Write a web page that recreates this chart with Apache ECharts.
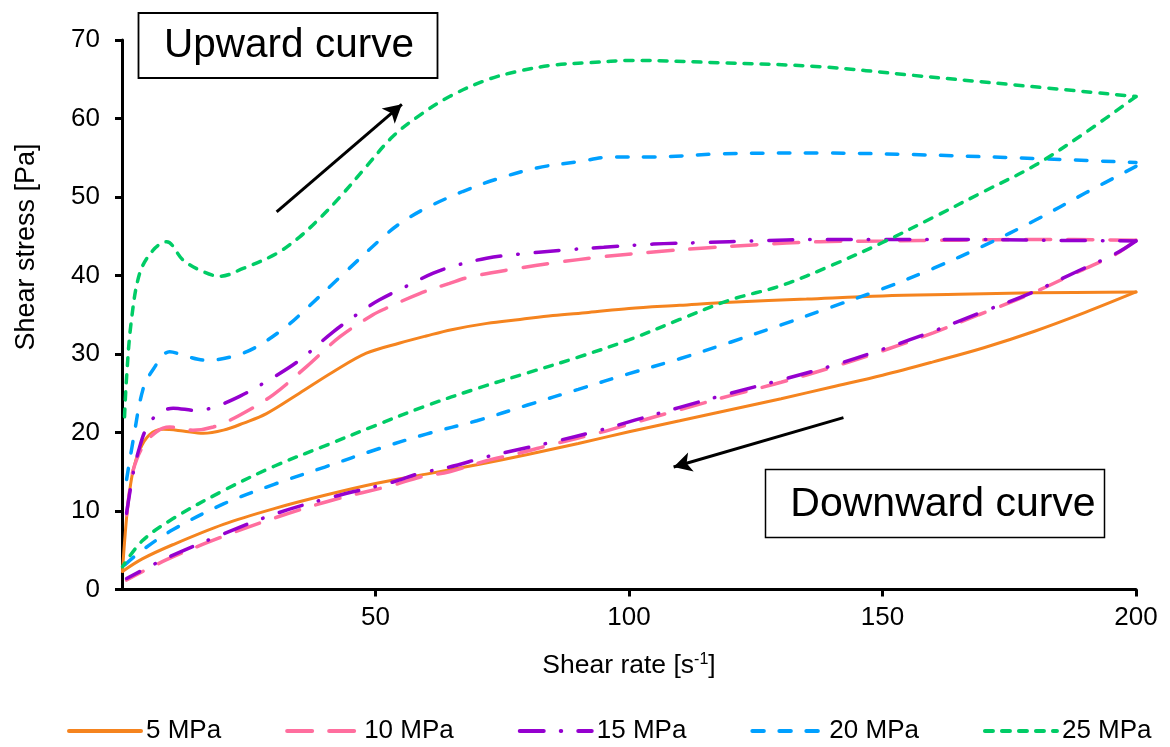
<!DOCTYPE html>
<html><head><meta charset="utf-8">
<script src="https://cdn.jsdelivr.net/npm/echarts@6/dist/echarts.min.js"></script>
<style>html,body{margin:0;padding:0;background:#fff}#c{width:1170px;height:747px}</style>
</head><body><div id="c"></div>
<script>
const seriesNames = ['5 MPa', '10 MPa', '15 MPa', '20 MPa', '25 MPa'];

// 5 MPa
const up5X = [0.1, 0.5, 1.2, 2.2, 3.5, 5.4, 8.1, 12, 16, 20, 24, 28.5, 35, 41.6, 48.2, 54.8, 60, 65, 72, 78.5, 85, 92, 100, 110, 120, 135, 150, 165, 180, 200];
const up5Y = [2.3, 6, 11, 15.2, 17.8, 19.7, 20.4, 20.2, 19.9, 20.3, 21.2, 22.4, 25, 27.7, 30.1, 31.4, 32.3, 33.1, 33.9, 34.4, 34.9, 35.3, 35.8, 36.2, 36.6, 37.0, 37.4, 37.6, 37.8, 37.9];
const down5X = [200, 190, 180, 170, 160, 150, 140, 130, 120, 110, 100, 90, 80, 70, 60, 50, 40, 30, 20, 10, 4, 0.1];
const down5Y = [37.9, 35.3, 32.9, 30.8, 29.0, 27.3, 25.8, 24.3, 22.9, 21.5, 20.1, 18.6, 17.2, 15.9, 14.7, 13.5, 12.0, 10.3, 8.3, 5.7, 3.9, 2.3];

// 10 MPa
const up10X = [0.9, 1.5, 2.2, 4.1, 6.8, 9.4, 14, 18, 23.2, 29.8, 36.4, 43, 49.5, 52, 58.7, 64.6, 68.6, 77, 85, 95, 104.8, 115, 124.5, 137.6, 150, 165, 180, 200];
const up10Y = [9.5, 12.5, 15.2, 18.2, 20.1, 20.7, 20.3, 20.7, 22.2, 24.8, 28.4, 32.2, 35.0, 35.8, 37.7, 39, 39.8, 40.8, 41.6, 42.4, 43, 43.5, 43.9, 44.3, 44.4, 44.5, 44.6, 44.5];
const down10X = [200, 196, 189, 179, 169, 160, 150, 140, 130, 120, 110, 101.3, 94.3, 85, 78, 71.9, 64.6, 58.7, 53.5, 41.6, 30.5, 19.3, 8.8, 0.9];
const down10Y = [44.5, 42.7, 40.6, 37.6, 35.0, 32.7, 30.4, 28.3, 26.4, 24.7, 22.9, 21.3, 20.0, 18.5, 17.3, 16.4, 15.0, 14.3, 13.3, 11.4, 9.2, 6.6, 3.8, 1.2];

// 15 MPa
const up15X = [0.9, 2.2, 3.5, 4.8, 6.8, 10.1, 14.7, 18, 23.2, 28.5, 35, 41.6, 47.6, 50.8, 56, 61.4, 66, 71.9, 78, 86.4, 95, 104.8, 115, 124.5, 137.6, 150, 165, 180, 200];
const up15Y = [9.7, 14.8, 18.2, 20.5, 22.2, 23.1, 22.8, 23.2, 24.6, 26.5, 29.2, 32.8, 35.6, 36.9, 38.6, 40.3, 41.3, 42.2, 42.7, 43.2, 43.6, 44.0, 44.2, 44.4, 44.6, 44.6, 44.6, 44.5, 44.4];
const down15X = [200, 196, 189, 179, 169, 160, 150, 140, 130, 120, 110, 101.3, 94.3, 85, 78, 71.9, 64.6, 58.7, 53.5, 41.6, 30.5, 19.3, 8.8, 0.9];
const down15Y = [44.4, 42.8, 40.7, 37.7, 35.2, 32.9, 30.6, 28.5, 26.7, 25.0, 23.2, 21.6, 20.3, 18.8, 17.8, 16.9, 15.6, 14.8, 13.7, 11.8, 9.7, 6.9, 4.0, 1.4];

// 20 MPa
const up20X = [0.9, 2.2, 4.1, 6.1, 9.4, 12.7, 16.7, 21.9, 26.5, 32.4, 36.4, 43, 51.5, 55, 60, 67.2, 74, 81.8, 90, 96.9, 104.8, 118, 137.6, 156, 175.7, 200];
const up20Y = [14, 19, 25.4, 28, 30.3, 29.7, 29.2, 29.7, 30.9, 33.5, 35.8, 39.8, 44.9, 46.7, 48.6, 50.7, 52.3, 53.7, 54.5, 55.1, 55.1, 55.5, 55.6, 55.4, 55, 54.4];
const down20X = [200, 190, 180, 170, 160, 150, 140, 130, 120, 110, 100, 90, 80, 70, 60, 50, 40, 30, 20, 10, 4, 0.5];
const down20Y = [53.9, 50.5, 47.0, 43.8, 40.9, 38.3, 36.0, 33.7, 31.5, 29.4, 27.5, 25.5, 23.5, 21.5, 19.8, 17.8, 15.6, 13.4, 10.9, 7.6, 5.0, 3.1];

// 25 MPa
const up25X = [0.5, 0.9, 1.8, 3.5, 6.1, 8.8, 12, 15.3, 19.3, 23.9, 30.5, 35, 39, 43, 48.2, 53.4, 58.7, 64.6, 71.9, 78, 85, 92, 100.7, 118, 137.6, 156, 175.7, 200];
const up25Y = [22, 27, 34, 40.3, 43.2, 44.3, 42, 40.7, 39.9, 40.9, 42.8, 44.9, 47.3, 50, 53.9, 57.7, 60.4, 62.8, 64.9, 66.0, 66.8, 67.1, 67.4, 67.1, 66.6, 65.5, 64.3, 62.8];
const down25X = [200, 190, 180, 170, 160, 150, 140, 130, 120, 110, 100, 90, 80, 70, 60, 50, 40, 30, 20, 10, 4, 0.1];
const down25Y = [62.8, 58.2, 54.0, 50.7, 47.4, 44.2, 41.3, 38.7, 36.9, 34.4, 31.8, 29.6, 27.6, 25.6, 23.4, 20.9, 18.3, 15.7, 12.6, 9.0, 6.2, 2.9];

const upX = [up5X, up10X, up15X, up20X, up25X];
const upY = [up5Y, up10Y, up15Y, up20Y, up25Y];
const downX = [down5X, down10X, down15X, down20X, down25X];
const downY = [down5Y, down10Y, down15Y, down20Y, down25Y];

const colors = ['#F5841F', '#FF6E9E', '#9500CF', '#00A0FF', '#00CC66'];
const dashes = ['solid', [25, 17], [24, 17, 0.5, 17], [11.5, 15.5], [8, 9]];
const widths = [3, 3.5, 3.5, 3.5, 3.5];

const FONT = 'Liberation Sans, Arial, sans-serif';
const zip = (xs, ys) => xs.map((x, i) => [x, ys[i]]);

const series = [];
seriesNames.forEach((name, i) => {
  const ls = { color: colors[i], width: widths[i], type: dashes[i], cap: 'round' };
  series.push({ name, type: 'line', data: zip(upX[i], upY[i]), smooth: 0.35, showSymbol: false, symbol: 'none', lineStyle: ls, itemStyle: { color: colors[i] }, z: 2 + i });
  series.push({ name, type: 'line', data: zip(downX[i], downY[i]), smooth: 0.35, showSymbol: false, symbol: 'none', lineStyle: ls, itemStyle: { color: colors[i] }, z: 2 + i });
});

// arrows (data coordinates)
const arrowUp = [[30.5, 48.1], [55.2, 61.8]];
const arrowDown = [[142.3, 21.9], [108.8, 15.6]];
series.push({
  type: 'line', data: [], silent: true,
  markLine: {
    silent: true, animation: false, symbol: ['none', 'arrow'], symbolSize: [15, 18],
    label: { show: false },
    lineStyle: { color: '#000', width: 3, type: 'solid' },
    emphasis: { disabled: true },
    data: [
      [{ coord: arrowUp[0] }, { coord: arrowUp[1] }],
      [{ coord: arrowDown[0] }, { coord: arrowDown[1] }]
    ]
  }
});

const chart = echarts.init(document.getElementById('c'), null, { renderer: 'canvas' });
chart.setOption({
  animation: false,
  backgroundColor: '#fff',
  grid: { left: 122, right: 34, top: 40, bottom: 157.5, containLabel: false },
  xAxis: {
    type: 'value', min: 0, max: 200, interval: 50,
    name: 'Shear rate [s{sup|-1}]', nameLocation: 'middle', nameGap: 62,
    nameTextStyle: { fontFamily: FONT, fontSize: 26.5, color: '#000',
      rich: { sup: { fontSize: 16, verticalAlign: 'top', padding: [0, 0, 12, 0], fontFamily: FONT, color: '#000' } } },
    axisLine: { show: true, lineStyle: { color: '#000', width: 3 } },
    axisTick: { show: true, inside: false, length: 7, lineStyle: { color: '#000', width: 3 } },
    axisLabel: { showMinLabel: false, margin: 15, fontFamily: FONT, fontSize: 26, color: '#000' },
    splitLine: { show: false }
  },
  yAxis: {
    type: 'value', min: 0, max: 70, interval: 10,
    axisLine: { show: true, lineStyle: { color: '#000', width: 3 } },
    axisTick: { show: true, inside: false, length: 7, lineStyle: { color: '#000', width: 3 } },
    axisLabel: { margin: 22, fontFamily: FONT, fontSize: 26, color: '#000' },
    splitLine: { show: false }
  },
  legend: {
    data: seriesNames, left: 62, top: 713, orient: 'horizontal',
    itemWidth: 72, itemHeight: 14, itemGap: 64,
    itemStyle: { opacity: 0 },
    lineStyle: { width: 4 },
    textStyle: { fontFamily: FONT, fontSize: 26, color: '#000' },
    selectedMode: false
  },
  graphic: [
    { type: 'text', x: 27, y: 247, rotation: Math.PI / 2,
      style: { text: 'Shear stress [Pa]', fontFamily: FONT, fontSize: 27, fill: '#000', textAlign: 'center', textVerticalAlign: 'middle' } },
    { type: 'rect', shape: { x: 138.5, y: 13, width: 299, height: 65 }, style: { fill: '#fff', stroke: '#000', lineWidth: 1.8 }, z: 50 },
    { type: 'text', x: 289, y: 46, style: { text: 'Upward curve', fontFamily: FONT, fontSize: 40.5, fill: '#000', textAlign: 'center', textVerticalAlign: 'middle' }, z: 51 },
    { type: 'rect', shape: { x: 765.5, y: 469.5, width: 339, height: 68 }, style: { fill: '#fff', stroke: '#000', lineWidth: 1.5 }, z: 50 },
    { type: 'text', x: 943, y: 505, style: { text: 'Downward curve', fontFamily: FONT, fontSize: 41, fill: '#000', textAlign: 'center', textVerticalAlign: 'middle' }, z: 51 }
  ],
  series
});
</script></body></html>
